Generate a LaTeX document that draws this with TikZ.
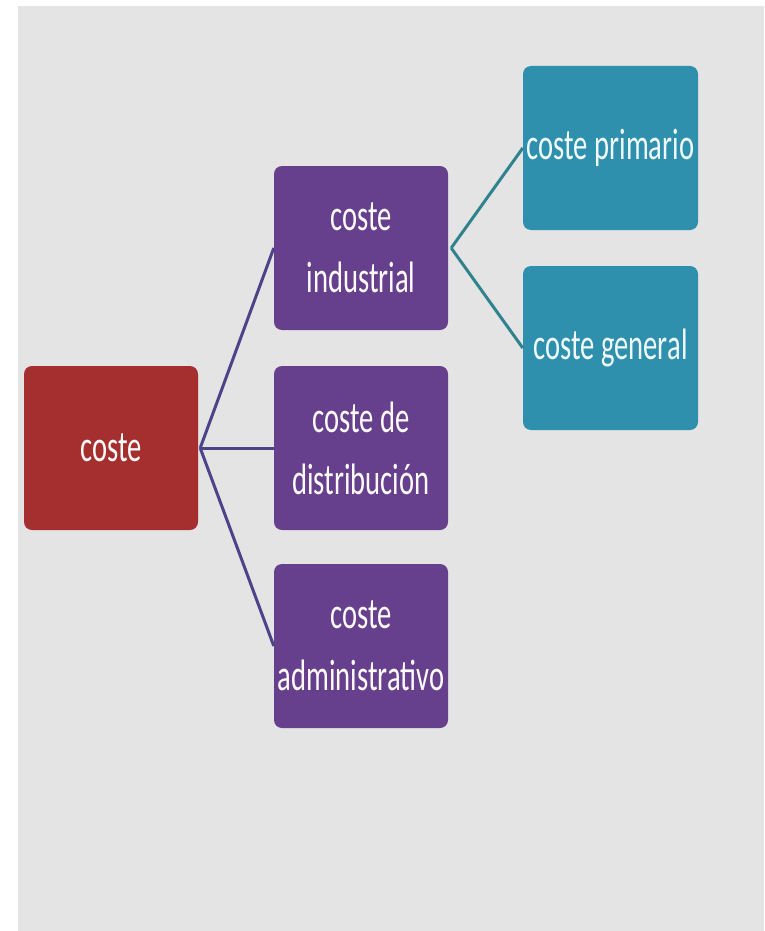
\documentclass[tikz,border=0pt]{standalone}
\usepackage{fontspec}
\newfontfamily\boxfont[FakeStretch=0.65]{Carlito}
\usepackage{xcolor}
\definecolor{costered}{HTML}{A52F2E}
\definecolor{costepurple}{HTML}{66408D}
\definecolor{costeteal}{HTML}{2E90AC}
\definecolor{linepurple}{HTML}{4D4388}
\definecolor{lineteal}{HTML}{2F828E}
\definecolor{paper}{HTML}{E4E4E4}
\tikzset{
  costebox/.style={rounded corners=8pt,inner sep=0pt,minimum width=174pt,minimum height=164pt,
    align=center,text=white!94!pink,font=\boxfont\fontsize{44}{62}\selectfont},
  rootbox/.style={costebox,fill=costered},
  midbox/.style={costebox,fill=costepurple},
  leafbox/.style={costebox,fill=costeteal,minimum width=175pt,text=white!94!cyan},
  rootline/.style={linepurple,line width=3pt},
  leafline/.style={lineteal,line width=3pt}
}
\begin{document}
\begin{tikzpicture}[x=1pt,y=1pt]
\fill[white] (0,0) rectangle (764,-931);
\fill[paper] (18,-6) rectangle (764,-931);
\useasboundingbox (0,0) rectangle (764,-931);
  \node[rootbox] at (111,-448) (coste){coste};
  \node[midbox] at ([xshift=250pt,yshift=200pt]coste) (ind){coste\\industrial};
  \node[midbox] at ([xshift=250pt]coste) (dist){coste de\\distribución};
  \node[midbox] at ([xshift=250pt,yshift=-198pt]coste) (adm){coste\\administrativo};
  \node[leafbox] at ([xshift=249.5pt,yshift=100pt]ind) (prim){coste primario};
  \node[leafbox] at ([xshift=249.5pt,yshift=-100pt]ind) (gen){coste general};

  \draw [rootline] ([xshift=2pt]coste.east) -- (ind.west);
  \draw [rootline] ([xshift=2pt]coste.east) -- (dist.west);
  \draw [rootline] ([xshift=2pt]coste.east) -- (adm.west);
  \draw [leafline] ([xshift=3pt]ind.east) -- (prim.west);
  \draw [leafline] ([xshift=3pt]ind.east) -- (gen.west);
\end{tikzpicture}
\end{document}
